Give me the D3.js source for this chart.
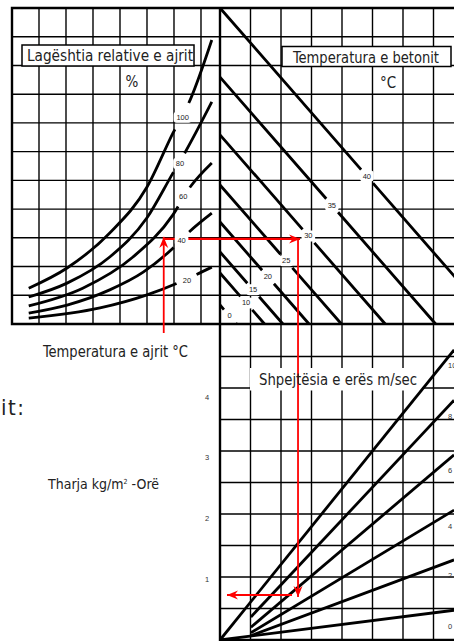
<!DOCTYPE html>
<html>
<head>
<meta charset="utf-8">
<script src="https://cdn.jsdelivr.net/npm/d3@7"></script>
<style>
  html, body { margin: 0; padding: 0; background: #fff; }
  svg { display: block; }
  text { font-family: "Liberation Sans", Arial, sans-serif; }
  .title { font-family: "Liberation Sans Narrow", "Arial Narrow", "DejaVu Sans Condensed", sans-serif; fill: #222; }
</style>
</head>
<body>
<div id="app"></div>
<script>
const width = 454,
    height = 641;

// relative humidity curves: [air temperature °C, vapour pressure hPa]
const humidityLevels = [100, 80, 60, 40, 20];
const rh100 = [[3.1, 8.5], [10.2, 13.3], [18.1, 21.6], [25.0, 32.5], [29.8, 45.3], [33.0, 53.2], [37.0, 67.4]];
const rh80 = [[3.1, 6.4], [10.2, 9.7], [18.1, 15.9], [25.0, 25.2], [29.8, 35.8], [32.0, 40.6], [37.0, 52.7]];
const rh60 = [[3.1, 4.3], [13.1, 8.5], [22.4, 15.9], [29.8, 25.9], [32.6, 31.8], [37.0, 38.2]];
const rh40 = [[3.1, 2.6], [10.2, 4.5], [18.1, 8.1], [24.3, 12.3], [29.8, 18.0], [32.6, 21.6], [37.0, 26.3]];
const rh20 = [[3.1, 1.4], [16.3, 3.8], [25.0, 6.9], [30.6, 9.7], [33.9, 11.6], [37.0, 13.5]];
const humidityLabelAt = [[31.6, 49.1], [31.1, 38.1], [31.7, 30.2], [31.4, 19.9], [32.4, 10.4]];

// concrete temperature lines: vapour pressure (hPa) where each meets the left edge
const concreteTemps = [0, 10, 15, 20, 25, 30, 35, 40];
const concreteStart = [4.5, 12.1, 17.1, 24.2, 33.0, 44.9, 58.6, 75.0];
const concreteLabelAt = [1.9, 5.0, 8.1, 11.2, 15.0, 20.9, 28.2, 35.1];

// wind speed lines: [pressure difference hPa, evaporation kg/m2 h] at both ends
const windSpeeds = [0, 2, 4, 6, 8, 10];
const windFrom = [[0, 0], [8.4, 0.07], [8.4, 0.12], [8.4, 0.21], [8.4, 0.38], [0, 0]];
const windTo = [[63.6, 0.49], [63.6, 1.32], [63.6, 2.14], [63.6, 3.05], [63.6, 3.95], [63.6, 4.78]];

const evapTicks = [1, 2, 3, 4];

// worked example drawn in red
const exampleAirTemp = 28.1,
    exampleVapour = 20.2,
    exampleDeltaE = 21.2,
    exampleEvap = 0.74;

const xT = d3.scaleLinear().domain([0, 38.52]).range([12, 220]);
const yV = d3.scaleLinear().domain([0, 75]).range([324, 8]);
const xDe = d3.scaleLinear().domain([0, 66.3]).range([220, 464]);
const yEv = d3.scaleLinear().domain([0, 5.19]).range([640, 325]);

const svg = d3.select("#app")
    .append("svg")
    .attr("width", width)
    .attr("height", height);

const defs = svg.append("defs");
defs.append("marker")
    .attr("id", "arrow")
    .attr("viewBox", "-12 -6 14 12")
    .attr("refX", 0).attr("refY", 0)
    .attr("markerWidth", 14).attr("markerHeight", 12)
    .attr("markerUnits", "userSpaceOnUse")
    .attr("orient", "auto")
    .append("path")
    .attr("d", "M0,0 L-11,-4.5 L-7.5,0 L-11,4.5 Z")
    .attr("fill", "#ff0000");

//Grid
const grid = svg.append("g").attr("stroke", "#000").attr("stroke-width", 1.4);
const topY0 = yV.range()[1], topY1 = yV.range()[0];
d3.range(5, 36, 5).forEach(t => {
    grid.append("line").attr("x1", xT(t)).attr("x2", xT(t)).attr("y1", topY0).attr("y2", topY1);
});
d3.range(1, 11).forEach(i => {
    const y = topY0 + i * (topY1 - topY0) / 11;
    grid.append("line").attr("x1", xT.range()[0]).attr("x2", xDe.range()[1]).attr("y1", y).attr("y2", y);
});
const colW = (xDe.range()[1] - xDe.range()[0]) / 8;
d3.range(1, 9).forEach(i => {
    const x = xDe.range()[0] + i * colW;
    grid.append("line").attr("x1", x).attr("x2", x).attr("y1", topY0).attr("y2", yEv.range()[0]);
});
d3.range(1, 10).forEach(i => {
    const y = yEv.range()[1] + i * (yEv.range()[0] - yEv.range()[1]) / 10;
    grid.append("line").attr("x1", xDe.range()[0]).attr("x2", xDe.range()[1]).attr("y1", y).attr("y2", y);
});

//Borders
const border = svg.append("g").attr("stroke", "#000").attr("stroke-width", 2.4).attr("fill", "none");
border.append("path").attr("d",
    `M${xDe.range()[1]},${topY0} H${xT.range()[0]} V${topY1} H${xDe.range()[1]}`);
border.append("path").attr("d",
    `M${xDe.range()[0]},${topY0} V${yEv.range()[0]} H${xDe.range()[1]}`);

//White boxes behind titles
svg.append("rect").attr("x", 22).attr("y", 45).attr("width", 172).attr("height", 21)
    .attr("fill", "#fff").attr("stroke", "#000").attr("stroke-width", 1.5);
svg.append("rect").attr("x", 282).attr("y", 46.5).attr("width", 169).attr("height", 20)
    .attr("fill", "#fff").attr("stroke", "#000").attr("stroke-width", 1.5);
svg.append("rect").attr("x", 250).attr("y", 368).attr("width", 172).attr("height", 22.5)
    .attr("fill", "#fff");

// break a path where it runs under a label
function gapAround(path, centre, r) {
    const node = path.node();
    const L = node.getTotalLength();
    const step = 0.5;
    const segs = [];
    let cur = true, run = 0;
    for (let l = 0; l <= L; l += step) {
        const p = node.getPointAtLength(l);
        const vis = Math.hypot(p.x - centre[0], p.y - centre[1]) >= r;
        if (vis !== cur) { segs.push(run); run = 0; cur = vis; }
        run += step;
    }
    segs.push(run);
    if (segs.length % 2 === 1) segs.push(L);
    path.attr("stroke-dasharray", segs.join(" "));
}

const lines = svg.append("g").attr("fill", "none").attr("stroke", "#000").attr("stroke-width", 2.8);

//Relative humidity curves
const rhLine = d3.line().x(d => xT(d[0])).y(d => yV(d[1])).curve(d3.curveMonotoneX);
[rh100, rh80, rh60, rh40, rh20].forEach((pts, i) => {
    const p = lines.append("path").attr("d", rhLine(pts));
    const c = humidityLabelAt[i];
    gapAround(p, [xT(c[0]), yV(c[1])], i === 0 ? 15 : 11);
});

//Concrete temperature lines
concreteTemps.forEach((t, i) => {
    const s = concreteStart[i];
    const p = lines.append("line")
        .attr("x1", xDe(0)).attr("y1", yV(s))
        .attr("x2", xDe(s)).attr("y2", yV(0));
    const lv = concreteLabelAt[i];
    gapAround(p, [xDe(s - lv), yV(lv)], 9);
});

//Wind speed lines
windSpeeds.forEach((w, i) => {
    lines.append("line")
        .attr("x1", xDe(windFrom[i][0])).attr("y1", yEv(windFrom[i][1]))
        .attr("x2", xDe(windTo[i][0])).attr("y2", yEv(windTo[i][1]));
});

//Worked example
const red = svg.append("g").attr("stroke", "#ff0000").attr("stroke-width", 1.8).attr("fill", "none");
const ax = xT(exampleAirTemp), vy = yV(exampleVapour), dx = xDe(exampleDeltaE), ey = yEv(exampleEvap);
red.append("line").attr("x1", ax).attr("y1", topY1 + 9).attr("x2", ax).attr("y2", vy - 2)
    .attr("marker-end", "url(#arrow)");
red.append("line").attr("x1", ax).attr("y1", vy).attr("x2", dx + 2).attr("y2", vy)
    .attr("stroke-width", 2.2).attr("marker-end", "url(#arrow)");
red.append("line").attr("x1", dx).attr("y1", vy).attr("x2", dx).attr("y2", ey + 2)
    .attr("marker-end", "url(#arrow)");
red.append("line").attr("x1", dx - 6).attr("y1", ey).attr("x2", xDe(0) + 7).attr("y2", ey)
    .attr("stroke-width", 2).attr("marker-end", "url(#arrow)");

//Number labels with white background
function numLabel(x, y, txt) {
    const w = txt.length * 4.3 + 5;
    svg.append("rect").attr("x", x - w / 2).attr("y", y - 5.5).attr("width", w).attr("height", 11)
        .attr("rx", 3).attr("fill", "#fff");
    svg.append("text").attr("x", x).attr("y", y).attr("text-anchor", "middle")
        .attr("dominant-baseline", "central").attr("font-size", 7.5).attr("fill", "#222").text(txt);
}
humidityLevels.forEach((h, i) => {
    const c = humidityLabelAt[i];
    numLabel(xT(c[0]), yV(c[1]), String(h));
});
concreteTemps.forEach((t, i) => {
    const lv = concreteLabelAt[i];
    numLabel(xDe(concreteStart[i] - lv), yV(lv), String(t));
});
windSpeeds.forEach((w, i) => {
    svg.append("text").attr("x", 448).attr("y", yEv(windTo[i][1]) + 16)
        .attr("dominant-baseline", "central").attr("font-size", 7.5).attr("fill", "#333").text(w);
});
evapTicks.forEach(v => {
    svg.append("text").attr("x", 207).attr("y", yEv(v)).attr("text-anchor", "middle")
        .attr("dominant-baseline", "central").attr("font-size", 7.5).attr("fill", "#333").text(v);
});

//Titles
svg.append("text").attr("class", "title").attr("x", 27).attr("y", 60.5).attr("font-size", 16)
    .attr("textLength", 166).attr("lengthAdjust", "spacingAndGlyphs").text("Lagështia relative e ajrit");
svg.append("text").attr("class", "title").attr("x", 132).attr("y", 87).attr("font-size", 15)
    .attr("text-anchor", "middle").text("%");
svg.append("text").attr("class", "title").attr("x", 293).attr("y", 62.5).attr("font-size", 15.5)
    .attr("textLength", 146).attr("lengthAdjust", "spacingAndGlyphs").text("Temperatura e betonit");
svg.append("text").attr("class", "title").attr("x", 388).attr("y", 88).attr("font-size", 15)
    .attr("text-anchor", "middle").text("°C");
svg.append("text").attr("class", "title").attr("x", 43).attr("y", 357).attr("font-size", 15)
    .attr("textLength", 145).attr("lengthAdjust", "spacingAndGlyphs").text("Temperatura e ajrit °C");
svg.append("text").attr("class", "title").attr("x", 1).attr("y", 415).attr("font-size", 22)
    .attr("textLength", 23).attr("lengthAdjust", "spacing").text("it:");
const th = svg.append("text").attr("class", "title").attr("x", 48).attr("y", 489).attr("font-size", 14);
th.append("tspan").text("Tharja kg/m");
th.append("tspan").attr("dy", -5).attr("font-size", 7).text("2");
th.append("tspan").attr("dy", 5).text(" -Orë");
svg.append("text").attr("class", "title").attr("x", 259).attr("y", 385).attr("font-size", 16)
    .attr("textLength", 158).attr("lengthAdjust", "spacingAndGlyphs").text("Shpejtësia e erës m/sec");
</script>
</body>
</html>
